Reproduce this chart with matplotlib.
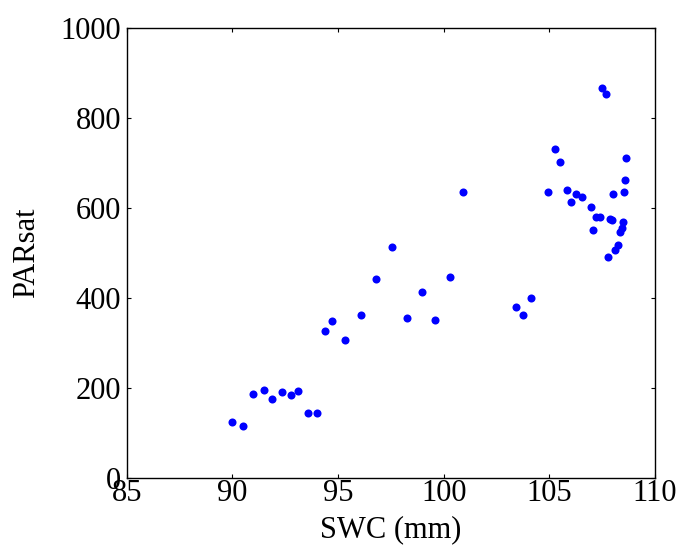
import matplotlib
matplotlib.use("Agg")
import matplotlib.pyplot as plt

plt.rcParams["font.family"] = ["Liberation Serif", "DejaVu Serif"]

# SWC (mm) vs PARsat
swc = [90.0, 90.5, 90.97, 91.48, 91.87, 92.33, 92.77, 93.11, 93.57, 94.02,
       94.38, 94.72, 95.33, 96.07, 96.80, 97.54, 98.28, 98.97, 99.57, 100.28,
       100.93, 103.44, 103.77, 104.11, 104.92, 105.26, 105.52, 105.82, 106.03, 106.28,
       106.56, 106.95, 107.07, 107.21, 107.38, 107.51, 107.69, 107.79, 107.87, 107.98,
       108.03, 108.13, 108.26, 108.36, 108.46, 108.49, 108.52, 108.59, 108.64]
parsat = [125, 115, 186, 196, 176, 191, 184, 194, 144, 144,
          326, 349, 307, 362, 442, 513, 355, 413, 352, 447,
          635, 381, 363, 400, 635, 731, 703, 639, 613, 630,
          624, 602, 551, 581, 581, 867, 854, 490, 575, 573,
          632, 507, 518, 547, 556, 568, 636, 663, 711]

xticks = [85, 90, 95, 100, 105, 110]
yticks = [0, 200, 400, 600, 800, 1000]

fig = plt.figure(figsize=(6.78, 5.47), dpi=100)
ax = fig.add_axes([0.187, 0.126, 0.779, 0.823])

ax.plot(swc, parsat, "o", color="#0000ff", markersize=5.8, markeredgewidth=0)

ax.set_xlim(85, 110)
ax.set_ylim(0, 1000)
ax.set_xticks(xticks)
ax.set_yticks(yticks)
ax.tick_params(direction="in", top=True, right=True, labelsize=22, length=3,
               width=0.8)
ax.tick_params(axis="x", pad=1)
ax.tick_params(axis="y", pad=4)
for s in ax.spines.values():
    s.set_linewidth(1.0)

ax.set_xlabel("SWC (mm)", fontsize=22, labelpad=5)
ax.set_ylabel("PARsat", fontsize=22, labelpad=14)

fig.savefig("out.png", dpi=100)
